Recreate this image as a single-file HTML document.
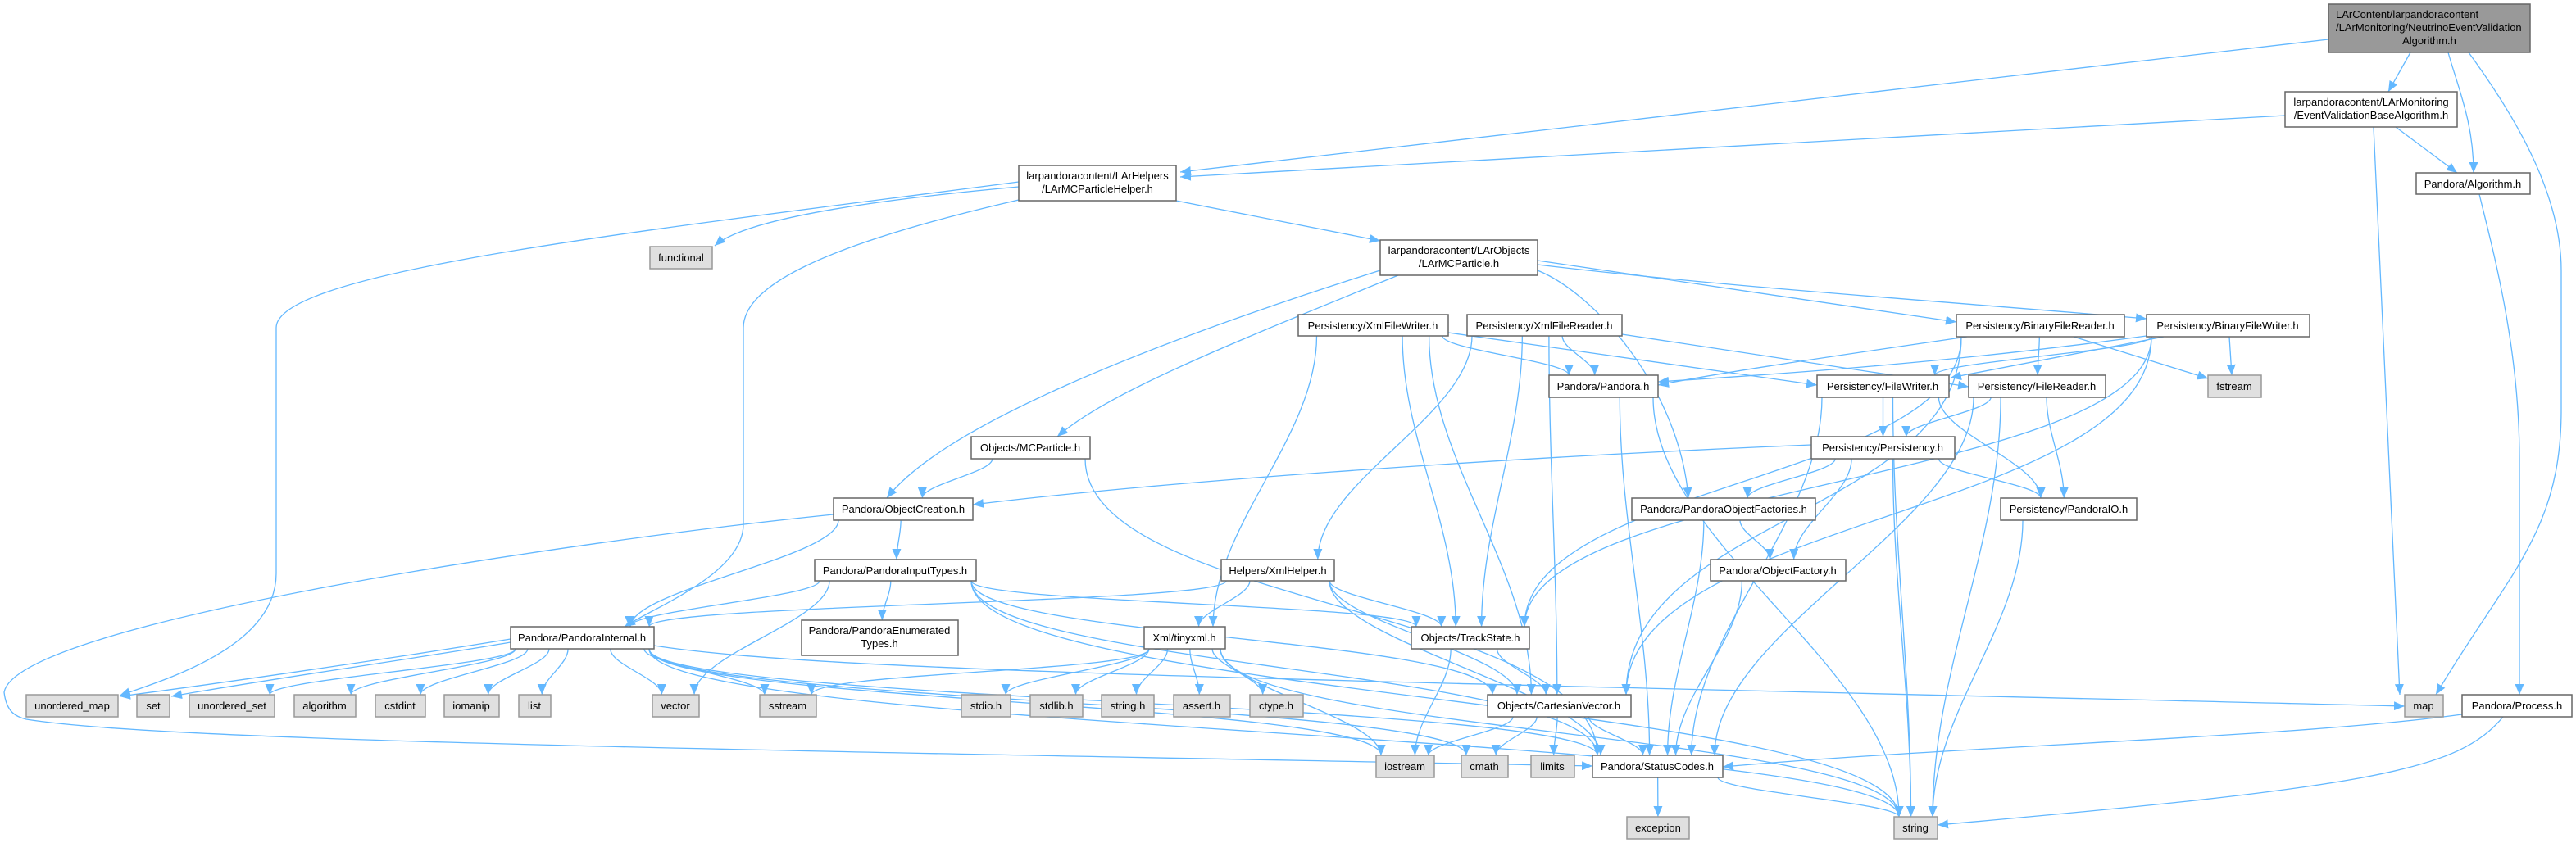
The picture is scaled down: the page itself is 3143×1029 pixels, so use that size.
<!DOCTYPE html>
<html><head><meta charset="utf-8"><style>
html,body{margin:0;padding:0;background:#fff;width:3143px;height:1029px;overflow:hidden}
svg{display:block}
text{font-family:"Liberation Sans",Arial,sans-serif;font-size:13px;fill:#000}
.w{fill:#fff;stroke:#666;stroke-width:1.5}
.g{fill:#e0e0e0;stroke:#999;stroke-width:1.5}
.d{fill:#999;stroke:#666;stroke-width:1.5}
#edges path{fill:none;stroke:#63b8ff;stroke-width:1.3}
</style></head><body>
<svg id="s" width="3143" height="1029" viewBox="0 0 3143 1029" xmlns="http://www.w3.org/2000/svg">
<defs><marker id="a" markerUnits="userSpaceOnUse" markerWidth="14" markerHeight="11" refX="13" refY="5.5" orient="auto"><path d="M0,0 L13,5.5 L0,11 z" fill="#63b8ff"/></marker></defs>
<g id="edges"></g>
<g id="nodes">
<rect class="d" x="2841" y="5" width="246" height="59"/>
<text x="2850" y="22">LArContent/larpandoracontent</text>
<text x="2850" y="38">/LArMonitoring/NeutrinoEventValidation</text>
<text x="2964" y="54" text-anchor="middle">Algorithm.h</text>

<rect class="w" x="2788" y="112" width="210" height="43"/>
<text x="2893" y="129" text-anchor="middle">larpandoracontent/LArMonitoring</text>
<text x="2893" y="145" text-anchor="middle">/EventValidationBaseAlgorithm.h</text>

<rect class="w" x="2948" y="211" width="139" height="26"/><text x="3017" y="229" text-anchor="middle">Pandora/Algorithm.h</text>
<rect class="g" x="2934" y="848" width="47" height="27"/><text x="2957" y="866" text-anchor="middle">map</text>
<rect class="w" x="3004" y="848" width="134" height="27"/><text x="3071" y="866" text-anchor="middle">Pandora/Process.h</text>

<rect class="w" x="1243" y="202" width="192" height="43"/>
<text x="1339" y="219" text-anchor="middle">larpandoracontent/LArHelpers</text>
<text x="1339" y="235" text-anchor="middle">/LArMCParticleHelper.h</text>
<rect class="g" x="793" y="301" width="76" height="27"/><text x="831" y="319" text-anchor="middle">functional</text>

<rect class="w" x="1684" y="293" width="192" height="43"/>
<text x="1780" y="310" text-anchor="middle">larpandoracontent/LArObjects</text>
<text x="1780" y="326" text-anchor="middle">/LArMCParticle.h</text>

<rect class="w" x="1584" y="384" width="183" height="26"/><text x="1675" y="402" text-anchor="middle">Persistency/XmlFileWriter.h</text>
<rect class="w" x="1790" y="384" width="189" height="26"/><text x="1884" y="402" text-anchor="middle">Persistency/XmlFileReader.h</text>
<rect class="w" x="2387" y="384" width="205" height="27"/><text x="2489" y="402" text-anchor="middle">Persistency/BinaryFileReader.h</text>
<rect class="w" x="2619" y="384" width="199" height="27"/><text x="2718" y="402" text-anchor="middle">Persistency/BinaryFileWriter.h</text>

<rect class="w" x="1890" y="458" width="133" height="27"/><text x="1956" y="476" text-anchor="middle">Pandora/Pandora.h</text>
<rect class="w" x="2217" y="458" width="161" height="27"/><text x="2297" y="476" text-anchor="middle">Persistency/FileWriter.h</text>
<rect class="w" x="2402" y="458" width="167" height="27"/><text x="2485" y="476" text-anchor="middle">Persistency/FileReader.h</text>
<rect class="g" x="2694" y="458" width="65" height="27"/><text x="2726" y="476" text-anchor="middle">fstream</text>

<rect class="w" x="2210" y="533" width="175" height="27"/><text x="2297" y="551" text-anchor="middle">Persistency/Persistency.h</text>
<rect class="w" x="1185" y="533" width="145" height="27"/><text x="1257" y="551" text-anchor="middle">Objects/MCParticle.h</text>
<rect class="w" x="1017" y="608" width="170" height="27"/><text x="1102" y="626" text-anchor="middle">Pandora/ObjectCreation.h</text>
<rect class="w" x="1991" y="608" width="224" height="27"/><text x="2103" y="626" text-anchor="middle">Pandora/PandoraObjectFactories.h</text>
<rect class="w" x="2441" y="608" width="166" height="27"/><text x="2524" y="626" text-anchor="middle">Persistency/PandoraIO.h</text>

<rect class="w" x="994" y="683" width="197" height="26"/><text x="1092" y="701" text-anchor="middle">Pandora/PandoraInputTypes.h</text>
<rect class="w" x="1490" y="683" width="138" height="26"/><text x="1559" y="701" text-anchor="middle">Helpers/XmlHelper.h</text>
<rect class="w" x="2087" y="683" width="165" height="26"/><text x="2169" y="701" text-anchor="middle">Pandora/ObjectFactory.h</text>

<rect class="w" x="978" y="757" width="191" height="43"/>
<text x="1073" y="774" text-anchor="middle">Pandora/PandoraEnumerated</text>
<text x="1073" y="790" text-anchor="middle">Types.h</text>
<rect class="w" x="623" y="765" width="175" height="27"/><text x="710" y="783" text-anchor="middle">Pandora/PandoraInternal.h</text>
<rect class="w" x="1396" y="765" width="99" height="27"/><text x="1445" y="783" text-anchor="middle">Xml/tinyxml.h</text>
<rect class="w" x="1722" y="765" width="144" height="27"/><text x="1794" y="783" text-anchor="middle">Objects/TrackState.h</text>

<rect class="g" x="32" y="848" width="112" height="27"/><text x="88" y="866" text-anchor="middle">unordered_map</text>
<rect class="g" x="167" y="848" width="40" height="27"/><text x="187" y="866" text-anchor="middle">set</text>
<rect class="g" x="231" y="848" width="104" height="27"/><text x="283" y="866" text-anchor="middle">unordered_set</text>
<rect class="g" x="359" y="848" width="75" height="27"/><text x="396" y="866" text-anchor="middle">algorithm</text>
<rect class="g" x="458" y="848" width="61" height="27"/><text x="488" y="866" text-anchor="middle">cstdint</text>
<rect class="g" x="542" y="848" width="67" height="27"/><text x="575" y="866" text-anchor="middle">iomanip</text>
<rect class="g" x="633" y="848" width="39" height="27"/><text x="652" y="866" text-anchor="middle">list</text>
<rect class="g" x="796" y="848" width="57" height="27"/><text x="824" y="866" text-anchor="middle">vector</text>
<rect class="g" x="927" y="848" width="69" height="27"/><text x="961" y="866" text-anchor="middle">sstream</text>
<rect class="g" x="1173" y="848" width="60" height="27"/><text x="1203" y="866" text-anchor="middle">stdio.h</text>
<rect class="g" x="1257" y="848" width="64" height="27"/><text x="1289" y="866" text-anchor="middle">stdlib.h</text>
<rect class="g" x="1344" y="848" width="64" height="27"/><text x="1376" y="866" text-anchor="middle">string.h</text>
<rect class="g" x="1432" y="848" width="69" height="27"/><text x="1466" y="866" text-anchor="middle">assert.h</text>
<rect class="g" x="1525" y="848" width="65" height="27"/><text x="1557" y="866" text-anchor="middle">ctype.h</text>
<rect class="w" x="1815" y="848" width="175" height="27"/><text x="1902" y="866" text-anchor="middle">Objects/CartesianVector.h</text>

<rect class="g" x="1679" y="922" width="71" height="27"/><text x="1714" y="940" text-anchor="middle">iostream</text>
<rect class="g" x="1783" y="922" width="57" height="27"/><text x="1811" y="940" text-anchor="middle">cmath</text>
<rect class="g" x="1868" y="922" width="53" height="27"/><text x="1894" y="940" text-anchor="middle">limits</text>
<rect class="w" x="1943" y="922" width="159" height="27"/><text x="2022" y="940" text-anchor="middle">Pandora/StatusCodes.h</text>
<rect class="g" x="1985" y="997" width="76" height="27"/><text x="2023" y="1015" text-anchor="middle">exception</text>
<rect class="g" x="2311" y="997" width="53" height="27"/><text x="2337" y="1015" text-anchor="middle">string</text>
</g>
</svg>
<script>
var N={T:[2841,5,3087,64],EVB:[2788,112,2998,155],ALG:[2948,211,3087,237],map:[2934,848,2981,875],PROC:[3004,848,3138,875],
HLP:[1243,202,1435,245],FUNC:[793,301,869,328],LMC:[1684,293,1876,336],XFW:[1584,384,1767,410],XFR:[1790,384,1979,410],
BFR:[2387,384,2592,411],BFW:[2619,384,2818,411],PAN:[1890,458,2023,485],FW:[2217,458,2378,485],FR:[2402,458,2569,485],FST:[2694,458,2759,485],
PERS:[2210,533,2385,560],MCP:[1185,533,1330,560],OC:[1017,608,1187,635],POF:[1991,608,2215,635],PIO:[2441,608,2607,635],
PIT:[994,683,1191,709],XH:[1490,683,1628,709],OF:[2087,683,2252,709],PET:[978,757,1169,800],PI:[623,765,798,792],TX:[1396,765,1495,792],TS:[1722,765,1866,792],
umap:[32,848,144,875],set:[167,848,207,875],uset:[231,848,335,875],algo:[359,848,434,875],cstd:[458,848,519,875],ioman:[542,848,609,875],list:[633,848,672,875],
vec:[796,848,853,875],sstr:[927,848,996,875],stdio:[1173,848,1233,875],stdlib:[1257,848,1321,875],strh:[1344,848,1408,875],assert:[1432,848,1501,875],ctype:[1525,848,1590,875],
CV:[1815,848,1990,875],ios:[1679,922,1750,949],cmath:[1783,922,1840,949],lim:[1868,922,1921,949],SC:[1943,922,2102,949],exc:[1985,997,2061,1024],str:[2311,997,2364,1024]};
var custom=[
"M2941,64 L2914,112",
"M2987,64 C3000,110 3018,150 3018,211",
"M2923,155 L2998,211",
"M2841,48 L1440,210","M2788,141 L1440,216",
"M3012,64 C3060,130 3125,230 3125,330 L3125,500 C3125,650 3060,700 2972,848",
"M2896,155 L2928,848",
"M3025,237 C3040,300 3074,420 3074,560 L3074,848",
"M3004,872 C2800,900 2400,910 2102,936",
"M3054,875 C3000,940 2900,960 2364,1007",
"M1243,228 C1000,250 900,275 872,300",
"M1243,222 C800,280 337,330 337,400 L337,700 C337,790 200,830 146,849",
"M1243,244 C1000,300 907,350 907,400 L907,640 C907,700 800,740 762,765",
"M1435,245 L1684,294",
"M1684,330 C1400,420 1150,520 1082,608",
"M1706,336 C1500,420 1350,480 1290,533",
"M1876,318 L2387,393","M1876,323 C2100,350 2400,370 2619,389",
"M1876,330 C1950,360 2050,480 2060,608",
"M1767,406 L2217,470","M1979,408 L2402,472",
"M2400,411 C2200,440 2100,455 2023,470","M2619,410 C2400,440 2200,455 2023,466",
"M2640,411 L2380,461","M2530,411 L2694,462","M2720,411 L2723,458",
"M2210,543 C1800,560 1400,590 1187,616",
"M1017,628 C700,660 20,760 5,845 C8,870 20,875 32,878 C200,905 900,915 1943,935",
"M798,788 C1000,820 1600,830 2934,862",
"M623,780 C500,800 300,830 146,850","M623,784 C500,805 320,830 209,850"
];
var E=[["XFW","PAN"],["XFW","TX"],["XFW","TS"],["XFW","CV"],["XFR","PAN"],["XFR","XH"],["XFR","TS"],["XFR","CV"],
["BFR","FR"],["BFR","TS"],["BFR","CV"],["BFW","FW"],["BFW","TS"],["BFW","CV"],
["FW","PERS"],["FW","PIO"],["FW","SC"],["FW","str"],["FR","PERS"],["FR","PIO"],["FR","SC"],["FR","str"],
["PERS","POF"],["PERS","OF"],["PERS","PIO"],["PERS","str"],["PAN","SC"],["PAN","str"],["POF","OF"],["POF","SC"],["OF","SC"],["PIO","str"],
["MCP","OC"],["MCP","SC"],["OC","PI"],["OC","PIT"],["PIT","PET"],["PIT","PI"],["PIT","vec"],["PIT","TS"],["PIT","CV"],["PIT","SC"],["PIT","str"],
["XH","PI"],["XH","TX"],["XH","TS"],["XH","CV"],["XH","SC"],
["TX","stdio"],["TX","stdlib"],["TX","strh"],["TX","assert"],["TX","ctype"],["TX","sstr"],["TX","ios"],["TX","str"],
["TS","CV"],["TS","ios"],["CV","ios"],["CV","cmath"],["CV","lim"],["CV","SC"],["SC","exc"],["SC","str"],
["PI","uset"],["PI","algo"],["PI","cstd"],["PI","ioman"],["PI","list"],["PI","vec"],["PI","sstr"],["PI","SC"],["PI","str"],["PI","ios"],["PI","cmath"]];
function cl(v,a,b){return Math.max(a,Math.min(b,v));}
var out=custom.slice();
E.forEach(function(e){var a=N[e[0]],b=N[e[1]];
 var acx=(a[0]+a[2])/2,bcx=(b[0]+b[2])/2;
 var sx=cl(acx+(bcx-acx)*0.3,a[0]+6,a[2]-6),sy=a[3];
 var ex=cl(bcx+(acx-bcx)*0.15,b[0]+6,b[2]-6),ey=b[1];
 var dy=ey-sy;
 if(dy<10){sy=(a[1]+a[3])/2;ey=(b[1]+b[3])/2;sx=bcx<acx?a[0]:a[2];ex=bcx<acx?b[2]:b[0];out.push("M"+sx+","+sy+" L"+ex+","+ey);return;}
 var k=Math.abs(ex-sx)>400?0.5:0.35;
 out.push("M"+sx+","+sy+" C"+sx+","+(sy+dy*k)+" "+ex+","+(ey-dy*k)+" "+ex+","+ey);
});
var g=document.getElementById("edges"),h="";
out.forEach(function(d){h+='<path d="'+d+'" marker-end="url(#a)"/>';});
g.innerHTML=h;
</script>
</body></html>
